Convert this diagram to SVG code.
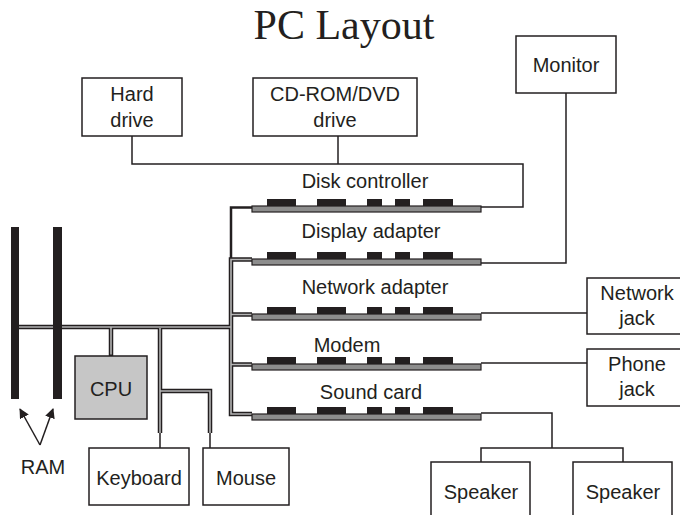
<svg xmlns="http://www.w3.org/2000/svg" width="680" height="515" viewBox="0 0 680 515">
<defs>
<style>
text{font-family:"Liberation Sans",Arial,sans-serif;font-size:20px;fill:#231f20;text-anchor:middle}
.title{font-family:"Liberation Serif","Times New Roman",serif;font-size:42px}
.box{fill:#fff;stroke:#231f20;stroke-width:1.5}
.wire{fill:none;stroke:#231f20;stroke-width:1.5}
.busO{fill:none;stroke:#231f20;stroke-width:4.5}
.busI{fill:none;stroke:#b4b4b4;stroke-width:1.6}
.bar{fill:#8d8d8d;stroke:#231f20;stroke-width:1.2}
.pad{fill:#231f20}
</style>
<marker id="ah" viewBox="0 0 10 10" refX="9" refY="5" markerWidth="10" markerHeight="10" markerUnits="userSpaceOnUse" orient="auto">
<path d="M0,0 L10,5 L0,10 z" fill="#231f20"/>
</marker>
<g id="pads">
<rect class="pad" x="267" y="-7" width="29" height="7"/>
<rect class="pad" x="317" y="-7" width="29" height="7"/>
<rect class="pad" x="367" y="-7" width="15" height="7"/>
<rect class="pad" x="395" y="-7" width="15" height="7"/>
<rect class="pad" x="423" y="-7" width="30" height="7"/>
<rect class="bar" x="252" y="0" width="229" height="6"/>
</g>
</defs>
<rect width="680" height="515" fill="#fff"/>
<text class="title" x="344" y="39">PC Layout</text>

<g id="connectors">
<path class="wire" d="M132,136 V164 H523 V207 H481"/>
<path class="wire" d="M338,136 V164"/>
<path class="wire" d="M566,93 V263 H481"/>
<path class="wire" d="M481,313 H587"/>
<path class="wire" d="M481,363 H587"/>
<path class="wire" d="M481,413 H552 V448"/>
<path class="wire" d="M481,462 V448 H623 V462"/>
<path class="wire" d="M160,433 V448 M210,433 V448"/>
<path d="M252,207.5 H231 V258" fill="none" stroke="#231f20" stroke-width="2.5"/>
<g>
<path class="busO" d="M15,327 H231"/>
<path class="busO" d="M252,259.5 H231 V414 H252 M231,314.5 H252 M231,364.5 H252"/>
<path class="busO" d="M111,327 V356"/>
<path class="busO" d="M160,327 V433 M160,391 H210 V433"/>
<path class="busI" d="M15,327 H231"/>
<path class="busI" d="M252,259.5 H231 V414 H252 M231,314.5 H252 M231,364.5 H252"/>
<path class="busI" d="M111,327 V354.5"/>
<path class="busI" d="M160,328 V433 M160,391 H210 V433"/>
</g>
<path class="wire" d="M40,445 L20,409" marker-end="url(#ah)"/>
<path class="wire" d="M40,445 L53,409" marker-end="url(#ah)"/>
</g>

<g id="ram">
<rect x="11" y="227" width="8" height="172" fill="#231f20"/>
<rect x="53" y="227" width="9" height="172" fill="#231f20"/>
<text x="43" y="474">RAM</text>
</g>

<g id="cpu">
<rect x="75" y="356" width="72" height="63" fill="#c6c6c6" stroke="#231f20" stroke-width="1.5"/>
<text x="111" y="396">CPU</text>
</g>

<g id="hard-drive">
<rect class="box" x="82" y="78" width="100" height="58"/>
<text x="132" y="101">Hard</text>
<text x="132" y="127">drive</text>
</g>
<g id="cdrom">
<rect class="box" x="253" y="78" width="164" height="58"/>
<text x="335" y="101">CD-ROM/DVD</text>
<text x="335" y="127">drive</text>
</g>
<g id="monitor">
<rect class="box" x="516" y="36" width="100" height="57"/>
<text x="566" y="72">Monitor</text>
</g>

<g id="disk-controller">
<use href="#pads" y="206"/>
<text x="365" y="188">Disk controller</text>
</g>
<g id="display-adapter">
<use href="#pads" y="259"/>
<text x="371" y="238">Display adapter</text>
</g>
<g id="network-adapter">
<use href="#pads" y="314"/>
<text x="375" y="294">Network adapter</text>
</g>
<g id="modem">
<use href="#pads" y="364"/>
<text x="347" y="352">Modem</text>
</g>
<g id="sound-card">
<use href="#pads" y="414"/>
<text x="371" y="399">Sound card</text>
</g>

<g id="network-jack">
<rect class="box" x="587" y="278" width="101" height="56"/>
<text x="637" y="300">Network</text>
<text x="637" y="325">jack</text>
</g>
<g id="phone-jack">
<rect class="box" x="587" y="349" width="101" height="57"/>
<text x="637" y="371">Phone</text>
<text x="637" y="396">jack</text>
</g>
<g id="speaker1">
<rect class="box" x="431" y="462" width="99" height="60"/>
<text x="481" y="499">Speaker</text>
</g>
<g id="speaker2">
<rect class="box" x="573" y="462" width="99" height="60"/>
<text x="623" y="499">Speaker</text>
</g>
<g id="keyboard">
<rect class="box" x="89" y="448" width="100" height="57"/>
<text x="139" y="485">Keyboard</text>
</g>
<g id="mouse">
<rect class="box" x="203" y="448" width="86" height="57"/>
<text x="246" y="485">Mouse</text>
</g>
</svg>
